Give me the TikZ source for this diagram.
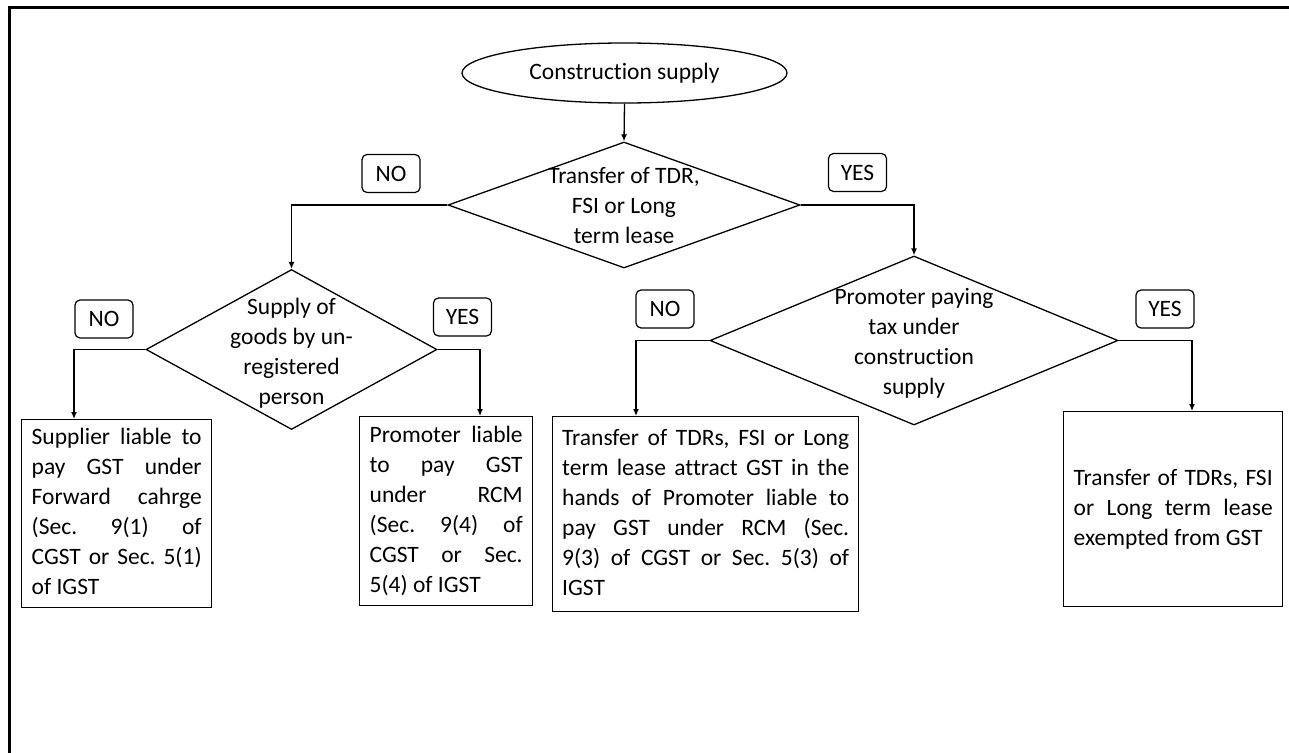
\documentclass[tikz,border=0pt]{standalone}
\usepackage{fontspec}
\setmainfont{Carlito}[Ligatures=NoCommon]
\usetikzlibrary{shapes.geometric,arrows.meta}

% one justified line (stretched to the box width) and one plain last line
\newcommand\JL[1]{\hbox to\hsize{\vrule height 0.75em depth 0.25em width 0pt\relax #1}}
\newcommand\LL[1]{\hbox{\vrule height 0.75em depth 0.25em width 0pt\relax #1}}
\newcommand\blocktext[2]{\vbox{\hsize=#1\relax\spaceskip=0.226em plus 1fil\relax #2}}

\tikzset{
  every node/.style={font=\fontsize{23.5}{30}\selectfont\frenchspacing},
  flow/.style={line width=1.3pt},
  arr/.style={flow,-{Latex[length=7pt,width=6pt]}},
  startnode/.style={draw,line width=1.3pt,ellipse,inner sep=0pt,minimum width=325pt,minimum height=60pt},
  decision/.style={draw,line width=1.3pt,diamond,inner sep=0pt,aspect=1},
  dtext/.style={align=center,inner sep=0pt},
  answer/.style={draw,line width=1.2pt,rounded corners=5pt,inner sep=0pt,minimum width=58pt,minimum height=38pt},
  outbox/.style={draw,line width=1.4pt,inner sep=0pt,anchor=north west},
}

\begin{document}
\begin{tikzpicture}[x=1pt,y=-1pt]
\useasboundingbox (0,0) rectangle (1289,752);

% page frame (only the left and top edges fall inside)
\draw[line width=2.6pt] (9.7,760) -- (9.7,7.8) -- (1295,7.8);

% start
\node[startnode] (start) at (624.5,73) {Construction supply};

% decisions
\node[decision,minimum width=352pt,minimum height=126pt] (d1) at (624,205) {};
\node[dtext,yshift=-1pt] (t1) at (d1.center) {Transfer of TDR,\\FSI or Long\\term lease};

\node[decision,minimum width=291pt,minimum height=160pt] (d2) at (291.5,349.5) {};
\node[dtext,yshift=-4pt] (t2) at (d2.center) {Supply of\\goods by un-\\registered\\person};

\node[decision,minimum width=408pt,minimum height=169pt] (d3) at (914,340.5) {};
\node[dtext,yshift=-3pt] (t3) at (d3.center) {Promoter paying\\tax under\\construction\\supply};

% answers
\node[answer] (no1)  at (391,173.5) {NO};
\node[answer] (yes1) at (857.5,172.5) {YES};
\node[answer] (no2)  at (104,319) {NO};
\node[answer] (yes2) at (462.5,317) {YES};
\node[answer] (no3)  at (665,309) {NO};
\node[answer] (yes3) at (1165,309) {YES};

% outcomes
\node[outbox,minimum width=190pt,minimum height=188pt] (b1) at (21,419) {\blocktext{170pt}{%
  \JL{Supplier liable to}
  \JL{pay GST under}
  \JL{Forward cahrge}
  \JL{(Sec. 9(1) of}
  \JL{CGST or Sec. 5(1)}
  \LL{of IGST}}};

\node[outbox,minimum width=173pt,minimum height=189pt] (b2) at (359,416) {\blocktext{153pt}{%
  \JL{Promoter liable}
  \JL{to pay GST}
  \JL{under RCM}
  \JL{(Sec. 9(4) of}
  \JL{CGST or Sec.}
  \LL{5(4) of IGST}}};

\node[outbox,minimum width=306pt,minimum height=195pt] (b3) at (552,416) {\blocktext{287pt}{%
  \JL{Transfer of TDRs, FSI or Long}
  \JL{term lease attract GST in the}
  \JL{hands of Promoter liable to}
  \JL{pay GST under RCM (Sec.}
  \JL{9(3) of CGST or Sec. 5(3) of}
  \LL{IGST}}};

\node[outbox,minimum width=219pt,minimum height=195pt] (b4) at (1063,411) {\blocktext{199pt}{%
  \JL{Transfer of TDRs, FSI}
  \JL{or Long term lease}
  \LL{exempted from GST}}};

% connectors
\draw[arr] (start.south) -- (d1.north);
\draw[arr] (d1.west) -| (d2.north);
\draw[arr] (d1.east) -| (d3.north);
\draw[arr] (d2.west) -| ([xshift=53pt]b1.north west);
\draw[arr] (d2.east) -| ([xshift=121pt]b2.north west);
\draw[arr] (d3.west) -| ([xshift=84pt]b3.north west);
\draw[arr] (d3.east) -| ([xshift=129pt]b4.north west);
\end{tikzpicture}
\end{document}
